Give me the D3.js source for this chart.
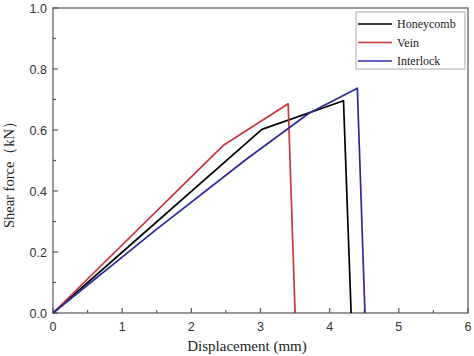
<!DOCTYPE html>
<html><head><meta charset="utf-8">
<script src="https://cdn.jsdelivr.net/npm/d3@7"></script>
<style>body{margin:0;background:#fff}svg{display:block}</style>
</head><body>
<svg id="c" width="474" height="356"></svg>
<script>
const seriesNames = ["Honeycomb", "Vein", "Interlock"];
const seriesColors = ["#000000", "#c8363a", "#2a2a9c"];
const honeycombX = [0, 3.02, 4.2, 4.31];
const honeycombY = [0, 0.602, 0.696, 0];
const veinX = [0, 2.47, 3.40, 3.50];
const veinY = [0, 0.551, 0.686, 0];
const interlockX = [0, 1.5, 2.8, 3.7, 4.4, 4.51];
const interlockY = [0, 0.275, 0.505, 0.655, 0.737, 0];
const xTicks = [0, 1, 2, 3, 4, 5, 6];
const yTicks = [0.0, 0.2, 0.4, 0.6, 0.8, 1.0];

const svg = d3.select("#c");
const L = 53, R = 468, T = 8, B = 313;
const x = d3.scaleLinear().domain([0, 6]).range([L, R]);
const y = d3.scaleLinear().domain([0, 1]).range([B, T]);
const axisColor = "#555";

// frame
svg.append("rect").attr("x", L).attr("y", T).attr("width", R - L).attr("height", B - T)
  .attr("fill", "none").attr("stroke", axisColor).attr("stroke-width", 1.2);

// x axis ticks (inward)
const xMinor = d3.range(0.5, 6, 1);
const gx = svg.append("g");
xTicks.forEach(v => {
  gx.append("line").attr("x1", x(v)).attr("x2", x(v)).attr("y1", B).attr("y2", B - 5)
    .attr("stroke", axisColor).attr("stroke-width", 1.2);
  gx.append("text").attr("x", x(v)).attr("y", B + 18).attr("text-anchor", "middle")
    .attr("font-family", "Liberation Sans, Arial, sans-serif").attr("font-size", 12.5)
    .attr("fill", "#333").text(d3.format("d")(v));
});
xMinor.forEach(v => {
  gx.append("line").attr("x1", x(v)).attr("x2", x(v)).attr("y1", B).attr("y2", B - 3)
    .attr("stroke", axisColor).attr("stroke-width", 1.2);
});
const yMinor = d3.range(0.1, 1, 0.2);
const gy = svg.append("g");
yTicks.forEach(v => {
  gy.append("line").attr("x1", L).attr("x2", L + 5).attr("y1", y(v)).attr("y2", y(v))
    .attr("stroke", axisColor).attr("stroke-width", 1.2);
  gy.append("text").attr("x", L - 6).attr("y", y(v) + 4.5).attr("text-anchor", "end")
    .attr("font-family", "Liberation Sans, Arial, sans-serif").attr("font-size", 12.5)
    .attr("fill", "#333").text(d3.format(".1f")(v));
});
yMinor.forEach(v => {
  gy.append("line").attr("x1", L).attr("x2", L + 3).attr("y1", y(v)).attr("y2", y(v))
    .attr("stroke", axisColor).attr("stroke-width", 1.2);
});

// series
const series = [
  {xs: honeycombX, ys: honeycombY},
  {xs: veinX, ys: veinY},
  {xs: interlockX, ys: interlockY}
];
const line = d3.line().x(d => x(d[0])).y(d => y(d[1]));
series.forEach((s, i) => {
  const pts = s.xs.map((v, j) => [v, s.ys[j]]);
  svg.append("path").attr("d", line(pts)).attr("fill", "none")
    .attr("stroke", seriesColors[i]).attr("stroke-width", 1.7).attr("stroke-linejoin", "round");
});

// axis titles
svg.append("text").attr("x", 247).attr("y", 351).attr("text-anchor", "middle")
  .attr("font-family", "Liberation Serif, Times New Roman, serif").attr("font-size", 15)
  .attr("fill", "#222").text("Displacement (mm)");
svg.append("text").attr("transform", "translate(14,171) rotate(-90)").attr("text-anchor", "middle")
  .attr("font-family", "Liberation Serif, Times New Roman, serif").attr("font-size", 14.5)
  .attr("fill", "#222").text("Shear force（kN）");

// legend
const lg = svg.append("g");
lg.append("rect").attr("x", 356).attr("y", 12).attr("width", 109).attr("height", 57)
  .attr("fill", "#fff").attr("stroke", "#aaa").attr("stroke-width", 1);
seriesNames.forEach((n, i) => {
  const yy = 24 + i * 18.5;
  lg.append("line").attr("x1", 358).attr("x2", 392).attr("y1", yy).attr("y2", yy)
    .attr("stroke", seriesColors[i]).attr("stroke-width", 1.7);
  lg.append("text").attr("x", 397).attr("y", yy + 4).attr("font-family", "Liberation Serif, Times New Roman, serif")
    .attr("font-size", 12).attr("fill", "#222").text(n);
});
</script>
</body></html>
